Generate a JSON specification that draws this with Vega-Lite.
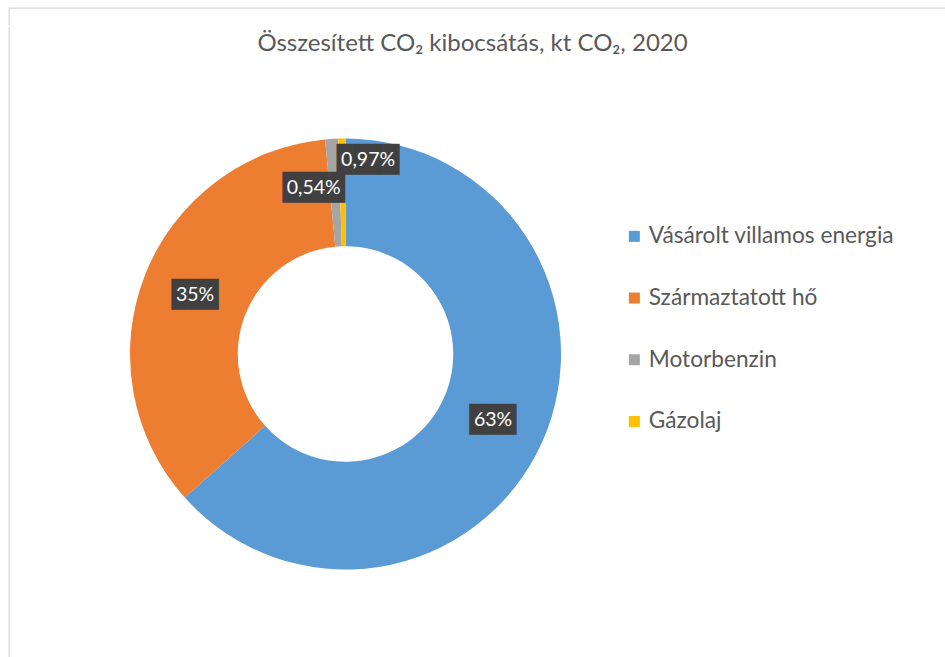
{
  "$schema": "https://vega.github.io/schema/vega-lite/v6.json",
  "padding": {"left": 8, "top": 7, "right": 0, "bottom": 0},
  "background": "#ffffff",
  "spacing": 0,
  "vconcat": [
    {
      "width": 950,
      "height": 17,
      "view": {"stroke": "#d9d9d9", "strokeWidth": 1.3, "fill": null, "strokeDash": [950, 967, 17, 0]},
      "data": {"values": []},
      "mark": {"type": "rule", "opacity": 0},
      "encoding": {}
    },
    {
      "width": 673,
      "height": 654,
      "view": {"stroke": "#d9d9d9", "strokeWidth": 1.3, "fill": null, "strokeDash": [0, 2000, 654, 0]},
      "title": {
        "text": "Összesített CO₂ kibocsátás, kt CO₂, 2020",
        "font": "Lato",
        "fontSize": 24,
        "fontWeight": "normal",
        "color": "#595959",
        "anchor": "middle",
        "frame": "group",
        "dx": 127,
        "offset": -29.35
      },
      "data": {
        "values": [
          {"category": "Vásárolt villamos energia", "value": 63.4, "label": "63%"},
          {"category": "Származtatott hő", "value": 35.1, "label": "35%"},
          {"category": "Motorbenzin", "value": 0.97, "label": "0,97%"},
          {"category": "Gázolaj", "value": 0.54, "label": "0,54%"}
        ]
      },
      "layer": [
        {
          "mark": {"type": "arc", "radius": 215.5, "radius2": 107.75},
          "encoding": {
            "theta": {"field": "value", "type": "quantitative", "stack": true},
            "order": {"field": "value", "type": "quantitative", "sort": "descending"},
            "color": {
              "field": "category",
              "type": "nominal",
              "scale": {
                "domain": ["Vásárolt villamos energia", "Származtatott hő", "Motorbenzin", "Gázolaj"],
                "range": ["#5B9BD5", "#ED7D31", "#A5A5A5", "#FFC000"]
              },
              "legend": {
                "orient": "none",
                "legendX": 614,
                "legendY": 198,
                "padding": 0,
                "title": null,
                "symbolType": "square",
                "symbolSize": 121,
                "symbolStrokeWidth": 0,
                "labelFont": "Lato",
                "labelFontSize": 22.7,
                "labelColor": "#595959",
                "labelOffset": 3,
                "rowPadding": 37.7,
                "labelLimit": 400
              }
            }
          }
        },
        {
          "mark": {
            "type": "text",
            "radius": 161.6,
            "font": "DejaVu Sans Mono",
            "fontSize": 26,
            "color": "#404040",
            "baseline": "middle",
            "align": "center",
            "dx": {"expr": "datum.category === 'Motorbenzin' ? 33 : datum.category === 'Gázolaj' ? -29 : 0"},
            "dy": {"expr": "datum.category === 'Motorbenzin' ? -32.7 : datum.category === 'Gázolaj' ? -4.5 : 0"}
          },
          "encoding": {
            "theta": {"field": "value", "type": "quantitative", "stack": true},
            "order": {"field": "value", "type": "quantitative", "sort": "descending"},
            "detail": {"field": "category", "type": "nominal"},
            "text": {"condition": {"test": "length(datum.label) > 3", "value": "████"}, "value": "███"}
          }
        },
        {
          "mark": {
            "type": "text",
            "radius": 161.6,
            "font": "Lato",
            "fontSize": 19.5,
            "color": "#ffffff",
            "baseline": "middle",
            "align": "center",
            "dx": {"expr": "datum.category === 'Motorbenzin' ? 33 : datum.category === 'Gázolaj' ? -29 : 0"},
            "dy": {"expr": "datum.category === 'Motorbenzin' ? -32.7 : datum.category === 'Gázolaj' ? -4.5 : 0"}
          },
          "encoding": {
            "theta": {"field": "value", "type": "quantitative", "stack": true},
            "order": {"field": "value", "type": "quantitative", "sort": "descending"},
            "detail": {"field": "category", "type": "nominal"},
            "text": {"field": "label", "type": "nominal"}
          }
        }
      ]
    }
  ],
  "resolve": {"scale": {"color": "independent"}, "legend": {"color": "independent"}},
  "config": {"view": {"stroke": null}}
}
